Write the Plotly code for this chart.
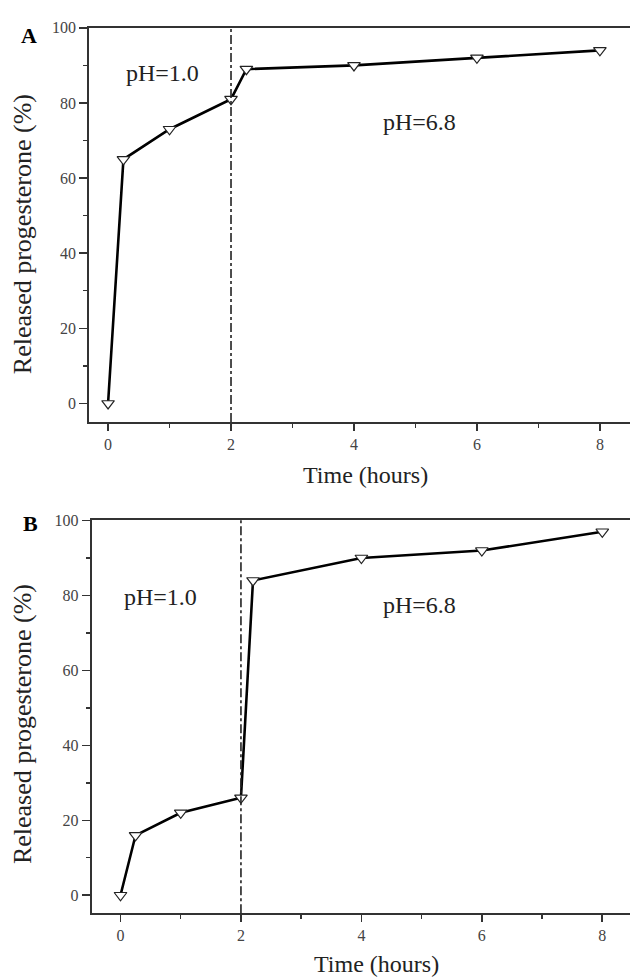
import plotly.graph_objects as go

# ---- data ----
time_a = [0, 0.25, 1, 2, 2.25, 4, 6, 8]
released_a = [0, 65, 73, 81, 89, 90, 92, 94]
time_b = [0, 0.25, 1, 2, 2.2, 4, 6, 8]
released_b = [0, 16, 22, 26, 84, 90, 92, 97]
x_ticks = [0, 2, 4, 6, 8]
y_ticks = [0, 20, 40, 60, 80, 100]
phase_switch = 2
panel_labels = ["A", "B"]
ph_labels = ["pH=1.0", "pH=6.8"]

W, H = 630, 979
SERIF = "Liberation Serif, Times New Roman, serif"
AX = "#333333"

fig = go.Figure()

def add_panel(fig, xs, ys, xa, ya):
    fig.add_trace(go.Scatter(
        x=xs, y=ys, mode="lines+markers", xaxis=xa, yaxis=ya,
        line=dict(color="black", width=2.6),
        marker=dict(symbol="triangle-down", size=11, color="white",
                    line=dict(color="#222222", width=1.2)),
        showlegend=False, cliponaxis=False, hoverinfo="skip"))

add_panel(fig, time_a, released_a, "x", "y")
add_panel(fig, time_b, released_b, "x2", "y2")

def xaxis_style(domain, rng, anchor):
    return dict(domain=domain, range=rng, anchor=anchor,
                tickvals=x_ticks, ticks="outside", ticklen=7, tickwidth=1.6,
                tickcolor=AX, showline=True, linecolor=AX, linewidth=1.8,
                mirror=True, showgrid=False, zeroline=False,
                tickfont=dict(family=SERIF, size=16, color="#444444"),
                minor=dict(dtick=1, tick0=0, ticks="outside", ticklen=4,
                           tickwidth=1.4, tickcolor=AX))

def yaxis_style(domain, rng, anchor):
    return dict(domain=domain, range=rng, anchor=anchor,
                tickvals=y_ticks, ticks="outside", ticklen=8, tickwidth=1.6,
                tickcolor=AX, showline=True, linecolor=AX, linewidth=1.8,
                showgrid=False, zeroline=False,
                tickfont=dict(family=SERIF, size=16, color="#444444"),
                minor=dict(dtick=10, tick0=0, ticks="outside", ticklen=4,
                           tickwidth=1.4, tickcolor=AX))

fig.update_layout(
    width=W, height=H, margin=dict(l=0, r=0, t=0, b=0),
    paper_bgcolor="white", plot_bgcolor="white",
    xaxis=xaxis_style([89 / W, 1.0], [-0.31, 8.49], "y"),
    yaxis=yaxis_style([1 - 417.3 / H, 1 - 20 / H], [-4.9, 100], "x"),
    xaxis2=xaxis_style([91.6 / W, 1.0], [-0.48, 8.46], "y2"),
    yaxis2=yaxis_style([1 - 912.7 / H, 1 - 516 / H], [-4.8, 100.2], "x2"),
)

# vertical dash-dot lines at the pH switch
for xr, yr in [("x", "y domain"), ("x2", "y2 domain")]:
    fig.add_shape(type="line", xref=xr, yref=yr, x0=phase_switch, x1=phase_switch,
                  y0=0, y1=1, line=dict(color="#222222", width=1.6, dash="dashdot"))

def note(text, x, y, xref, yref, size, angle=0, color="#222222"):
    return dict(text=text, x=x, y=y, xref=xref, yref=yref, showarrow=False,
                xanchor="center", yanchor="middle", textangle=angle,
                font=dict(family=SERIF, size=size, color=color))

ann = []
ann.append(note(ph_labels[0], 0.89, 88, "x", "y", 24))
ann.append(note(ph_labels[1], 5.07, 75, "x", "y", 24))
ann.append(note(ph_labels[0], 0.66, 79.6, "x2", "y2", 24))
ann.append(note(ph_labels[1], 4.97, 77.5, "x2", "y2", 24))
ann.append(note("<b>%s</b>" % panel_labels[0], 29 / W, 1 - 28 / H, "paper", "paper", 22, color="black"))
ann.append(note("<b>%s</b>" % panel_labels[1], 30 / W, 1 - 520 / H, "paper", "paper", 22, color="black"))
for yc in [228, 722]:
    ann.append(note("Released progesterone (%)", 22 / W, 1 - yc / H, "paper", "paper", 26, angle=-90))
for xc, yc in [(365, 471), (376, 964)]:
    ann.append(note("Time (hours)", xc / W, 1 - yc / H, "paper", "paper", 24))
fig.update_layout(annotations=ann)

fig.write_html("out.html", config={"displayModeBar": False, "staticPlot": True},
               post_script="document.body.style.margin='0';document.body.style.overflow='hidden';")
